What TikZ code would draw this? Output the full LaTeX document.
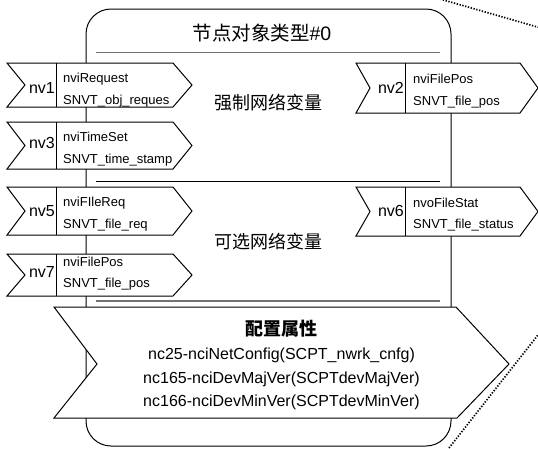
\documentclass[tikz,border=0pt]{standalone}
\usepackage{fontspec}
\setmainfont{Liberation Sans}
\newfontfamily\cjk{Noto Sans CJK SC}
\tikzset{
  boxline/.style={line width=1pt, black},
  flagline/.style={line width=1pt, black, fill=white, line join=miter},
  sepline/.style={line width=1.6pt, black!55},
  thinsep/.style={line width=1pt, black},
  zoomline/.style={line width=1.7pt, dash pattern=on 1.3pt off 1.6pt},
  nvlabel/.style={anchor=base east, inner sep=0pt, font=\fontsize{16}{18}\selectfont},
  nvtext/.style={anchor=base west, inner sep=0pt, font=\fontsize{13}{15}\selectfont},
  cfgtext/.style={anchor=base, inner sep=0pt, font=\fontsize{16}{18}\selectfont},
  grouptitle/.style={inner sep=0pt, font=\cjk\fontsize{18}{20}\selectfont},
}
% flag shape: #1 left x, #2 notch x, #3 divider x, #4 right x, #5 tip x, #6 top y, #7 bottom y
\newcommand\nvflag[7]{%
  \draw[flagline] (#1,#6) -- (#4,#6) -- (#5,{(#6+#7)/2}) -- (#4,#7) -- (#1,#7) -- (#2,{(#6+#7)/2}) -- cycle;
  \draw[flagline] (#3,#6) -- (#3,#7);
}
\begin{document}
\begin{tikzpicture}[x=1pt,y=-1pt]
\useasboundingbox (0,0) rectangle (538,448);
\begin{scope}
\clip (0,0) rectangle (538,448);
% zoom-out guide lines
\draw[zoomline] (440,-1) -- (560,33.5);
\draw[zoomline] (449,448) -- (560,307);
\end{scope}

% node object outline
\draw[boxline, rounded corners=25pt] (86,9) rectangle (451,446);

% title
\node[inner sep=0pt, font=\fontsize{19.5}{22}\selectfont] (title) at (262,33) {{\cjk 节点对象类型}\#0};
\draw[sepline] (96,52.5) -- (440,52.5);

% mandatory network variables
\nvflag{7}{25}{56}{173}{192}{63}{107}
\node[nvlabel] (nv1) at (55,93) {nv1};
\node[nvtext] (nv1a) at (63,82.5) {nviRequest};
\node[nvtext] (nv1b) at (63,104) {SNVT\_obj\_reques};

\nvflag{7}{25}{56}{173}{192}{122}{169}
\node[nvlabel] (nv3) at (55,148) {nv3};
\node[nvtext] (nv3a) at (63,141.5) {nviTimeSet};
\node[nvtext] (nv3b) at (63,163) {SNVT\_time\_stamp};

\nvflag{356}{370}{405}{520}{538}{63}{113}
\node[nvlabel] (nv2) at (404,93) {nv2};
\node[nvtext] (nv2a) at (413,83) {nviFilePos};
\node[nvtext] (nv2b) at (413,105) {SNVT\_file\_pos};

\node[grouptitle] (mandatory) at (268,102.5) {强制网络变量};

\draw[thinsep] (96,181) -- (440,181);

% optional network variables
\nvflag{7}{25}{56}{173}{192}{187}{235}
\node[nvlabel] (nv5) at (55,216.5) {nv5};
\node[nvtext] (nv5a) at (63,206.5) {nviFIleReq};
\node[nvtext] (nv5b) at (63,228) {SNVT\_file\_req};

\nvflag{7}{25}{56}{173}{192}{254}{296}
\node[nvlabel] (nv7) at (55,277) {nv7};
\node[nvtext] (nv7a) at (63,266.5) {nviFilePos};
\node[nvtext] (nv7b) at (63,287) {SNVT\_file\_pos};

\nvflag{356}{370}{405}{520}{538}{187}{236}
\node[nvlabel] (nv6) at (404,216.5) {nv6};
\node[nvtext] (nv6a) at (413,207) {nvoFileStat};
\node[nvtext] (nv6b) at (413,228) {SNVT\_file\_status};

\node[grouptitle] (optional) at (268,242) {可选网络变量};

\draw[sepline] (96,301) -- (440,301);

% configuration properties
\draw[flagline] (54,307) -- (456,307) -- (509,364) -- (457,418) -- (54,418) -- (97,364) -- cycle;
\node[grouptitle, font=\cjk\bfseries\fontsize{18}{20}\selectfont] (cfg) at (281.5,329) {配置属性};
\node[cfgtext] (cfg1) at (281.5,359.5) {nc25-nciNetConfig(SCPT\_nwrk\_cnfg)};
\node[cfgtext] (cfg2) at (281.5,383.5) {nc165-nciDevMajVer(SCPTdevMajVer)};
\node[cfgtext] (cfg3) at (281.5,406.5) {nc166-nciDevMinVer(SCPTdevMinVer)};
\end{tikzpicture}
\end{document}
